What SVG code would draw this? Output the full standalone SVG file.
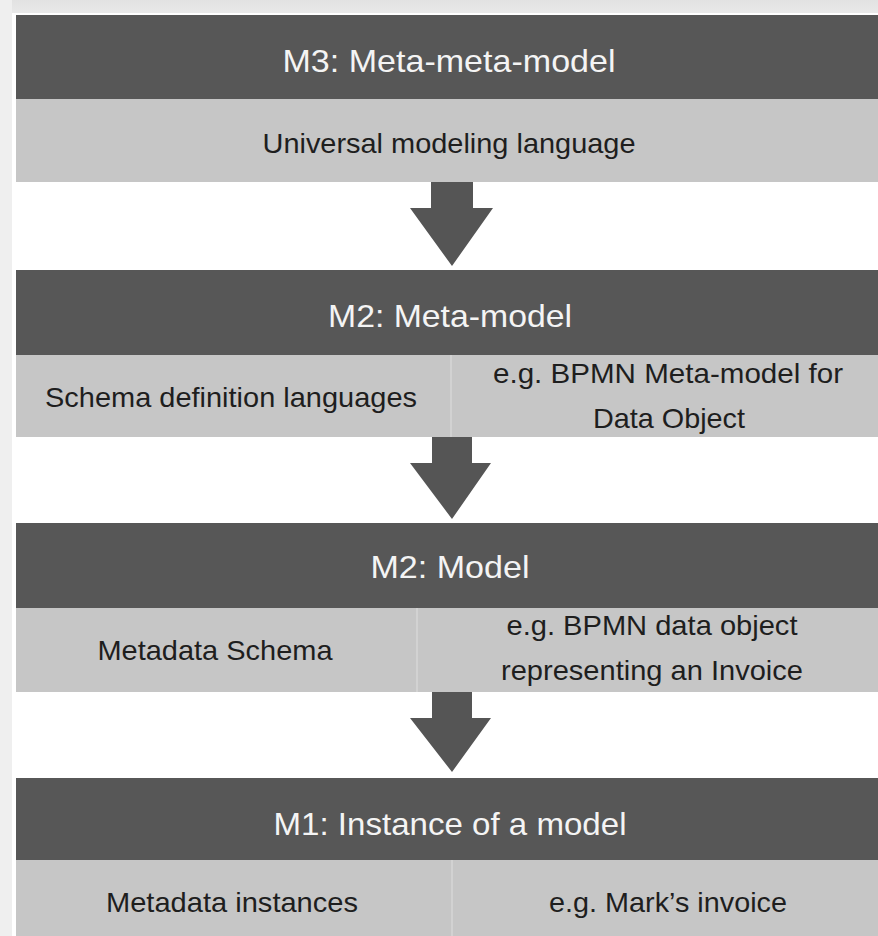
<svg xmlns="http://www.w3.org/2000/svg" width="878" height="936" viewBox="0 0 878 936">
  <style>
    .head { fill: #575757; }
    .body { fill: #c6c6c6; }
    .split { stroke: #d6d6d6; stroke-width: 1.5; }
    .title { font-family: "Liberation Sans", Arial, sans-serif; font-size: 32px; fill: #f4f4f4; text-anchor: middle; }
    .label { font-family: "Liberation Sans", Arial, sans-serif; font-size: 28px; fill: #1e1e1e; text-anchor: middle; }
    .arrow { fill: #555555; }
  </style>
  <defs>
    <linearGradient id="topShade" x1="0" y1="0" x2="0" y2="1">
      <stop offset="0" stop-color="#e2e2e2"/>
      <stop offset="1" stop-color="#e9e9e9"/>
    </linearGradient>
  </defs>

  <!-- page background -->
  <rect x="0" y="0" width="878" height="936" fill="#ffffff"/>
  <rect x="0" y="0" width="878" height="13" fill="url(#topShade)"/>
  <rect x="0" y="0" width="12" height="936" fill="#efefef"/>

  <!-- M3 level -->
  <g id="m3">
    <rect class="head" x="16" y="15" width="862" height="84"/>
    <text class="title" x="449" y="72" textLength="333" lengthAdjust="spacingAndGlyphs">M3: Meta-meta-model</text>
    <rect class="body" x="16" y="99" width="862" height="83"/>
    <text class="label" x="449" y="153" textLength="373" lengthAdjust="spacingAndGlyphs">Universal modeling language</text>
  </g>

  <!-- M2 meta-model level -->
  <g id="m2-meta">
    <rect class="head" x="16" y="270" width="862" height="85"/>
    <text class="title" x="450" y="327" textLength="244" lengthAdjust="spacingAndGlyphs">M2: Meta-model</text>
    <rect class="body" x="16" y="355" width="862" height="82"/>
    <line class="split" x1="451" y1="355" x2="451" y2="437"/>
    <text class="label" x="231" y="407" textLength="372" lengthAdjust="spacingAndGlyphs">Schema definition languages</text>
    <text class="label" x="668" y="383" textLength="350" lengthAdjust="spacingAndGlyphs">e.g. BPMN Meta-model for</text>
    <text class="label" x="669" y="428" textLength="152" lengthAdjust="spacingAndGlyphs">Data Object</text>
  </g>

  <!-- M2 model level -->
  <g id="m2-model">
    <rect class="head" x="16" y="523" width="862" height="85"/>
    <text class="title" x="450" y="578" textLength="159" lengthAdjust="spacingAndGlyphs">M2: Model</text>
    <rect class="body" x="16" y="608" width="862" height="84"/>
    <line class="split" x1="417" y1="608" x2="417" y2="692"/>
    <text class="label" x="215" y="660" textLength="235" lengthAdjust="spacingAndGlyphs">Metadata Schema</text>
    <text class="label" x="652" y="635" textLength="291" lengthAdjust="spacingAndGlyphs">e.g. BPMN data object</text>
    <text class="label" x="652" y="680" textLength="302" lengthAdjust="spacingAndGlyphs">representing an Invoice</text>
  </g>

  <!-- M1 instance level -->
  <g id="m1">
    <rect class="head" x="16" y="778" width="862" height="82"/>
    <text class="title" x="450" y="835" textLength="353" lengthAdjust="spacingAndGlyphs">M1: Instance of a model</text>
    <rect class="body" x="16" y="860" width="862" height="76"/>
    <line class="split" x1="452" y1="860" x2="452" y2="936"/>
    <text class="label" x="232" y="912" textLength="252" lengthAdjust="spacingAndGlyphs">Metadata instances</text>
    <text class="label" x="668" y="912" textLength="238" lengthAdjust="spacingAndGlyphs">e.g. Mark’s invoice</text>
  </g>

  <!-- block arrows between levels -->
  <g id="connectors">
    <polygon class="arrow" points="431,182 473,182 473,208 493,208 452,266 410,208 431,208"/>
    <polygon class="arrow" points="432,437 472,437 472,463 491,463 452,519 410,463 432,463"/>
    <polygon class="arrow" points="432,692 472,692 472,718 491,718 452,772 410,718 432,718"/>
  </g>
</svg>
